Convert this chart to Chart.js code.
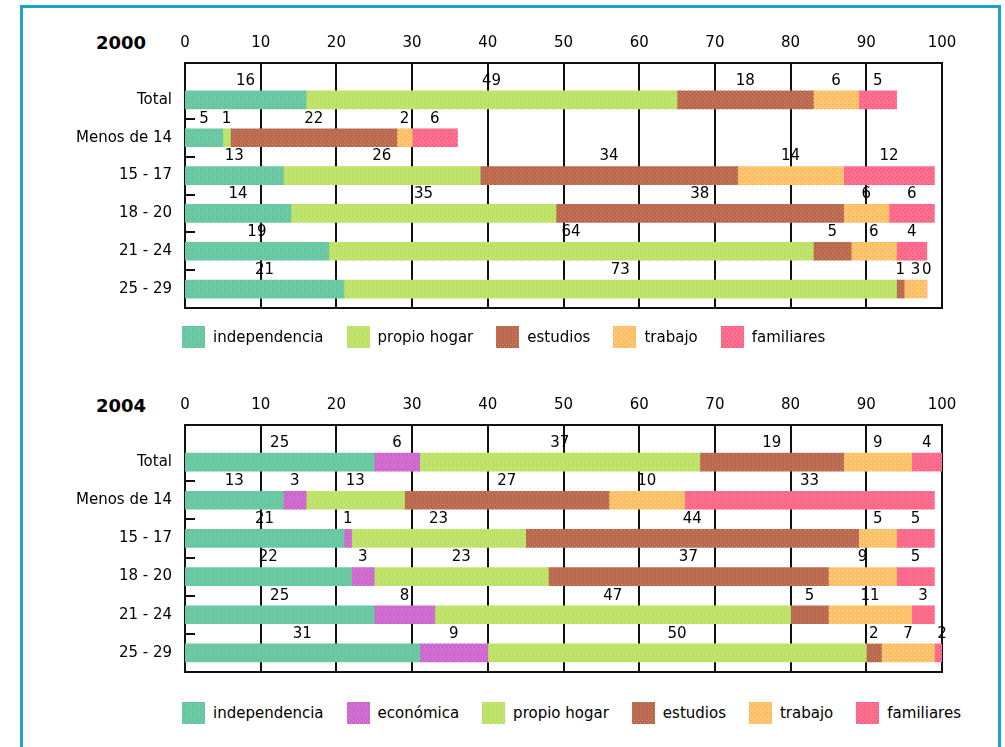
<!DOCTYPE html>
<html>
<head>
<meta charset="utf-8">
<script src="https://cdn.jsdelivr.net/npm/chart.js@4.4.1/dist/chart.umd.min.js"></script>
<style>
html, body { margin: 0; overflow: hidden; background: #fff; font-family: "DejaVu Sans", sans-serif; }
#frame { position: absolute; left: 20px; top: 5px; width: 975px; height: 800px; border: 3px solid #1ba3c9; }
.wrap { position: absolute; left: 0; width: 1005px; }
.year { position: absolute; left: 96px; font: bold 18px "DejaVu Sans", sans-serif; color: #000; }
.legend { position: absolute; left: 182px; display: flex; align-items: center; font-size: 15px; color: #000; }
.legend .item { display: flex; align-items: center; margin-right: 23px; }
.legend .box { display: inline-block; width: 23px; height: 22px; margin-right: 8px; }
</style>
</head>
<body>
<div id="frame"></div>
<div class="year" style="top:32px">2000</div>
<div class="wrap" style="top:0"><canvas id="chart2000" width="1005" height="330"></canvas></div>
<div class="legend" id="legend2000" style="top:326px"></div>
<div class="year" style="top:395px">2004</div>
<div class="wrap" style="top:362px"><canvas id="chart2004" width="1005" height="332"></canvas></div>
<div class="legend" id="legend2004" style="top:702px"></div>
<script>
const categories = ["Total", "Menos de 14", "15 - 17", "18 - 20", "21 - 24", "25 - 29"];
const xTicks = [0, 10, 20, 30, 40, 50, 60, 70, 80, 90, 100];

// 2000
const indep2000 = [16, 5, 13, 14, 19, 21];
const hogar2000 = [49, 1, 26, 35, 64, 73];
const estudios2000 = [18, 22, 34, 38, 5, 1];
const trabajo2000 = [6, 2, 14, 6, 6, 3];
const familiares2000 = [5, 6, 12, 6, 4, 0];

// 2004
const indep2004 = [25, 13, 21, 22, 25, 31];
const economica2004 = [6, 3, 1, 3, 8, 9];
const hogar2004 = [37, 13, 23, 23, 47, 50];
const estudios2004 = [19, 27, 44, 37, 5, 2];
const trabajo2004 = [9, 10, 5, 9, 11, 7];
const familiares2004 = [4, 33, 5, 5, 3, 2];

// dotted fills like the original bitmap
function makeTile(base, dot) {
  const c = document.createElement("canvas");
  c.width = 4; c.height = 4;
  const g = c.getContext("2d");
  g.fillStyle = base;
  g.fillRect(0, 0, 4, 4);
  g.fillStyle = dot;
  g.fillRect(0, 0, 1, 1);
  g.fillRect(2, 2, 1, 1);
  return c;
}
const tiles = {
  independencia: makeTile("#6ccaa4", "#58b892"),
  economica: makeTile("#cc66cc", "#e08ee0"),
  hogar: makeTile("#c2e46c", "#a6d65a"),
  estudios: makeTile("#b8684e", "#d88a62"),
  trabajo: makeTile("#ffc870", "#f2a04e"),
  familiares: makeTile("#ff7090", "#e0506c"),
};
const pat = (k) => document.createElement("canvas").getContext("2d").createPattern(tiles[k], "repeat");

const font = { family: "DejaVu Sans", size: 15 };

const framePlugin = {
  id: "frame",
  beforeDatasetsDraw(chart) {
    const { ctx, chartArea: a, scales: { x, y } } = chart;
    const top = a.top - 18;
    ctx.save();
    ctx.strokeStyle = "#111";
    ctx.lineWidth = 2;
    ctx.strokeRect(a.left, top, a.right - a.left, a.bottom - top);
    ctx.beginPath();
    xTicks.slice(1, -1).forEach((v) => {
      const px = Math.round(x.getPixelForValue(v));
      ctx.moveTo(px, top);
      ctx.lineTo(px, a.bottom);
    });
    for (let i = 0; i < categories.length - 1; i++) {
      const py = Math.round((y.getPixelForValue(i) + y.getPixelForValue(i + 1)) / 2);
      ctx.moveTo(a.left, py);
      ctx.lineTo(a.left + 10, py);
    }
    ctx.stroke();
    ctx.restore();
  },
  afterDatasetsDraw(chart) {
    const { ctx } = chart;
    ctx.save();
    ctx.font = "15px 'DejaVu Sans'";
    ctx.fillStyle = "#000";
    ctx.textAlign = "center";
    ctx.textBaseline = "middle";
    chart.data.datasets.forEach((ds, i) => {
      chart.getDatasetMeta(i).data.forEach((bar, j) => {
        ctx.fillText(String(ds.data[j]), (bar.x + bar.base) / 2, bar.y - 19);
      });
    });
    ctx.restore();
  },
};

function makeChart(id, datasets) {
  return new Chart(document.getElementById(id), {
    type: "bar",
    data: { labels: categories, datasets: datasets },
    options: {
      indexAxis: "y",
      responsive: false,
      animation: false,
      layout: { padding: { left: 30, right: 63, top: 30, bottom: 4 } },
      datasets: { bar: { barThickness: 18, borderWidth: 0 } },
      scales: {
        x: {
          position: "top",
          stacked: true,
          min: 0,
          max: 100,
          afterBuildTicks: (s) => { s.ticks = xTicks.map((v) => ({ value: v })); },
          afterFit: (s) => { s.height = 51; },
          ticks: { padding: 29, color: "#000", font: font, maxRotation: 0 },
          grid: { display: false, drawTicks: false },
          border: { display: false },
        },
        y: {
          stacked: true,
          afterFit: (s) => { s.width = 155; },
          ticks: { padding: 13, color: "#000", font: font },
          grid: { display: false, drawTicks: false },
          border: { display: false },
        },
      },
      plugins: { legend: { display: false }, tooltip: { enabled: false } },
    },
    plugins: [framePlugin],
  });
}

function buildLegend(elId, items) {
  const el = document.getElementById(elId);
  items.forEach(([label, key]) => {
    const it = document.createElement("div");
    it.className = "item";
    const box = document.createElement("span");
    box.className = "box";
    box.style.backgroundImage = "url(" + tiles[key].toDataURL() + ")";
    it.appendChild(box);
    it.appendChild(document.createTextNode(label));
    el.appendChild(it);
  });
}

makeChart("chart2000", [
  { label: "independencia", data: indep2000, backgroundColor: pat("independencia") },
  { label: "propio hogar", data: hogar2000, backgroundColor: pat("hogar") },
  { label: "estudios", data: estudios2000, backgroundColor: pat("estudios") },
  { label: "trabajo", data: trabajo2000, backgroundColor: pat("trabajo") },
  { label: "familiares", data: familiares2000, backgroundColor: pat("familiares") },
]);
buildLegend("legend2000", [
  ["independencia", "independencia"], ["propio hogar", "hogar"], ["estudios", "estudios"],
  ["trabajo", "trabajo"], ["familiares", "familiares"],
]);

makeChart("chart2004", [
  { label: "independencia", data: indep2004, backgroundColor: pat("independencia") },
  { label: "económica", data: economica2004, backgroundColor: pat("economica") },
  { label: "propio hogar", data: hogar2004, backgroundColor: pat("hogar") },
  { label: "estudios", data: estudios2004, backgroundColor: pat("estudios") },
  { label: "trabajo", data: trabajo2004, backgroundColor: pat("trabajo") },
  { label: "familiares", data: familiares2004, backgroundColor: pat("familiares") },
]);
buildLegend("legend2004", [
  ["independencia", "independencia"], ["económica", "economica"], ["propio hogar", "hogar"],
  ["estudios", "estudios"], ["trabajo", "trabajo"], ["familiares", "familiares"],
]);
</script>
</body>
</html>
